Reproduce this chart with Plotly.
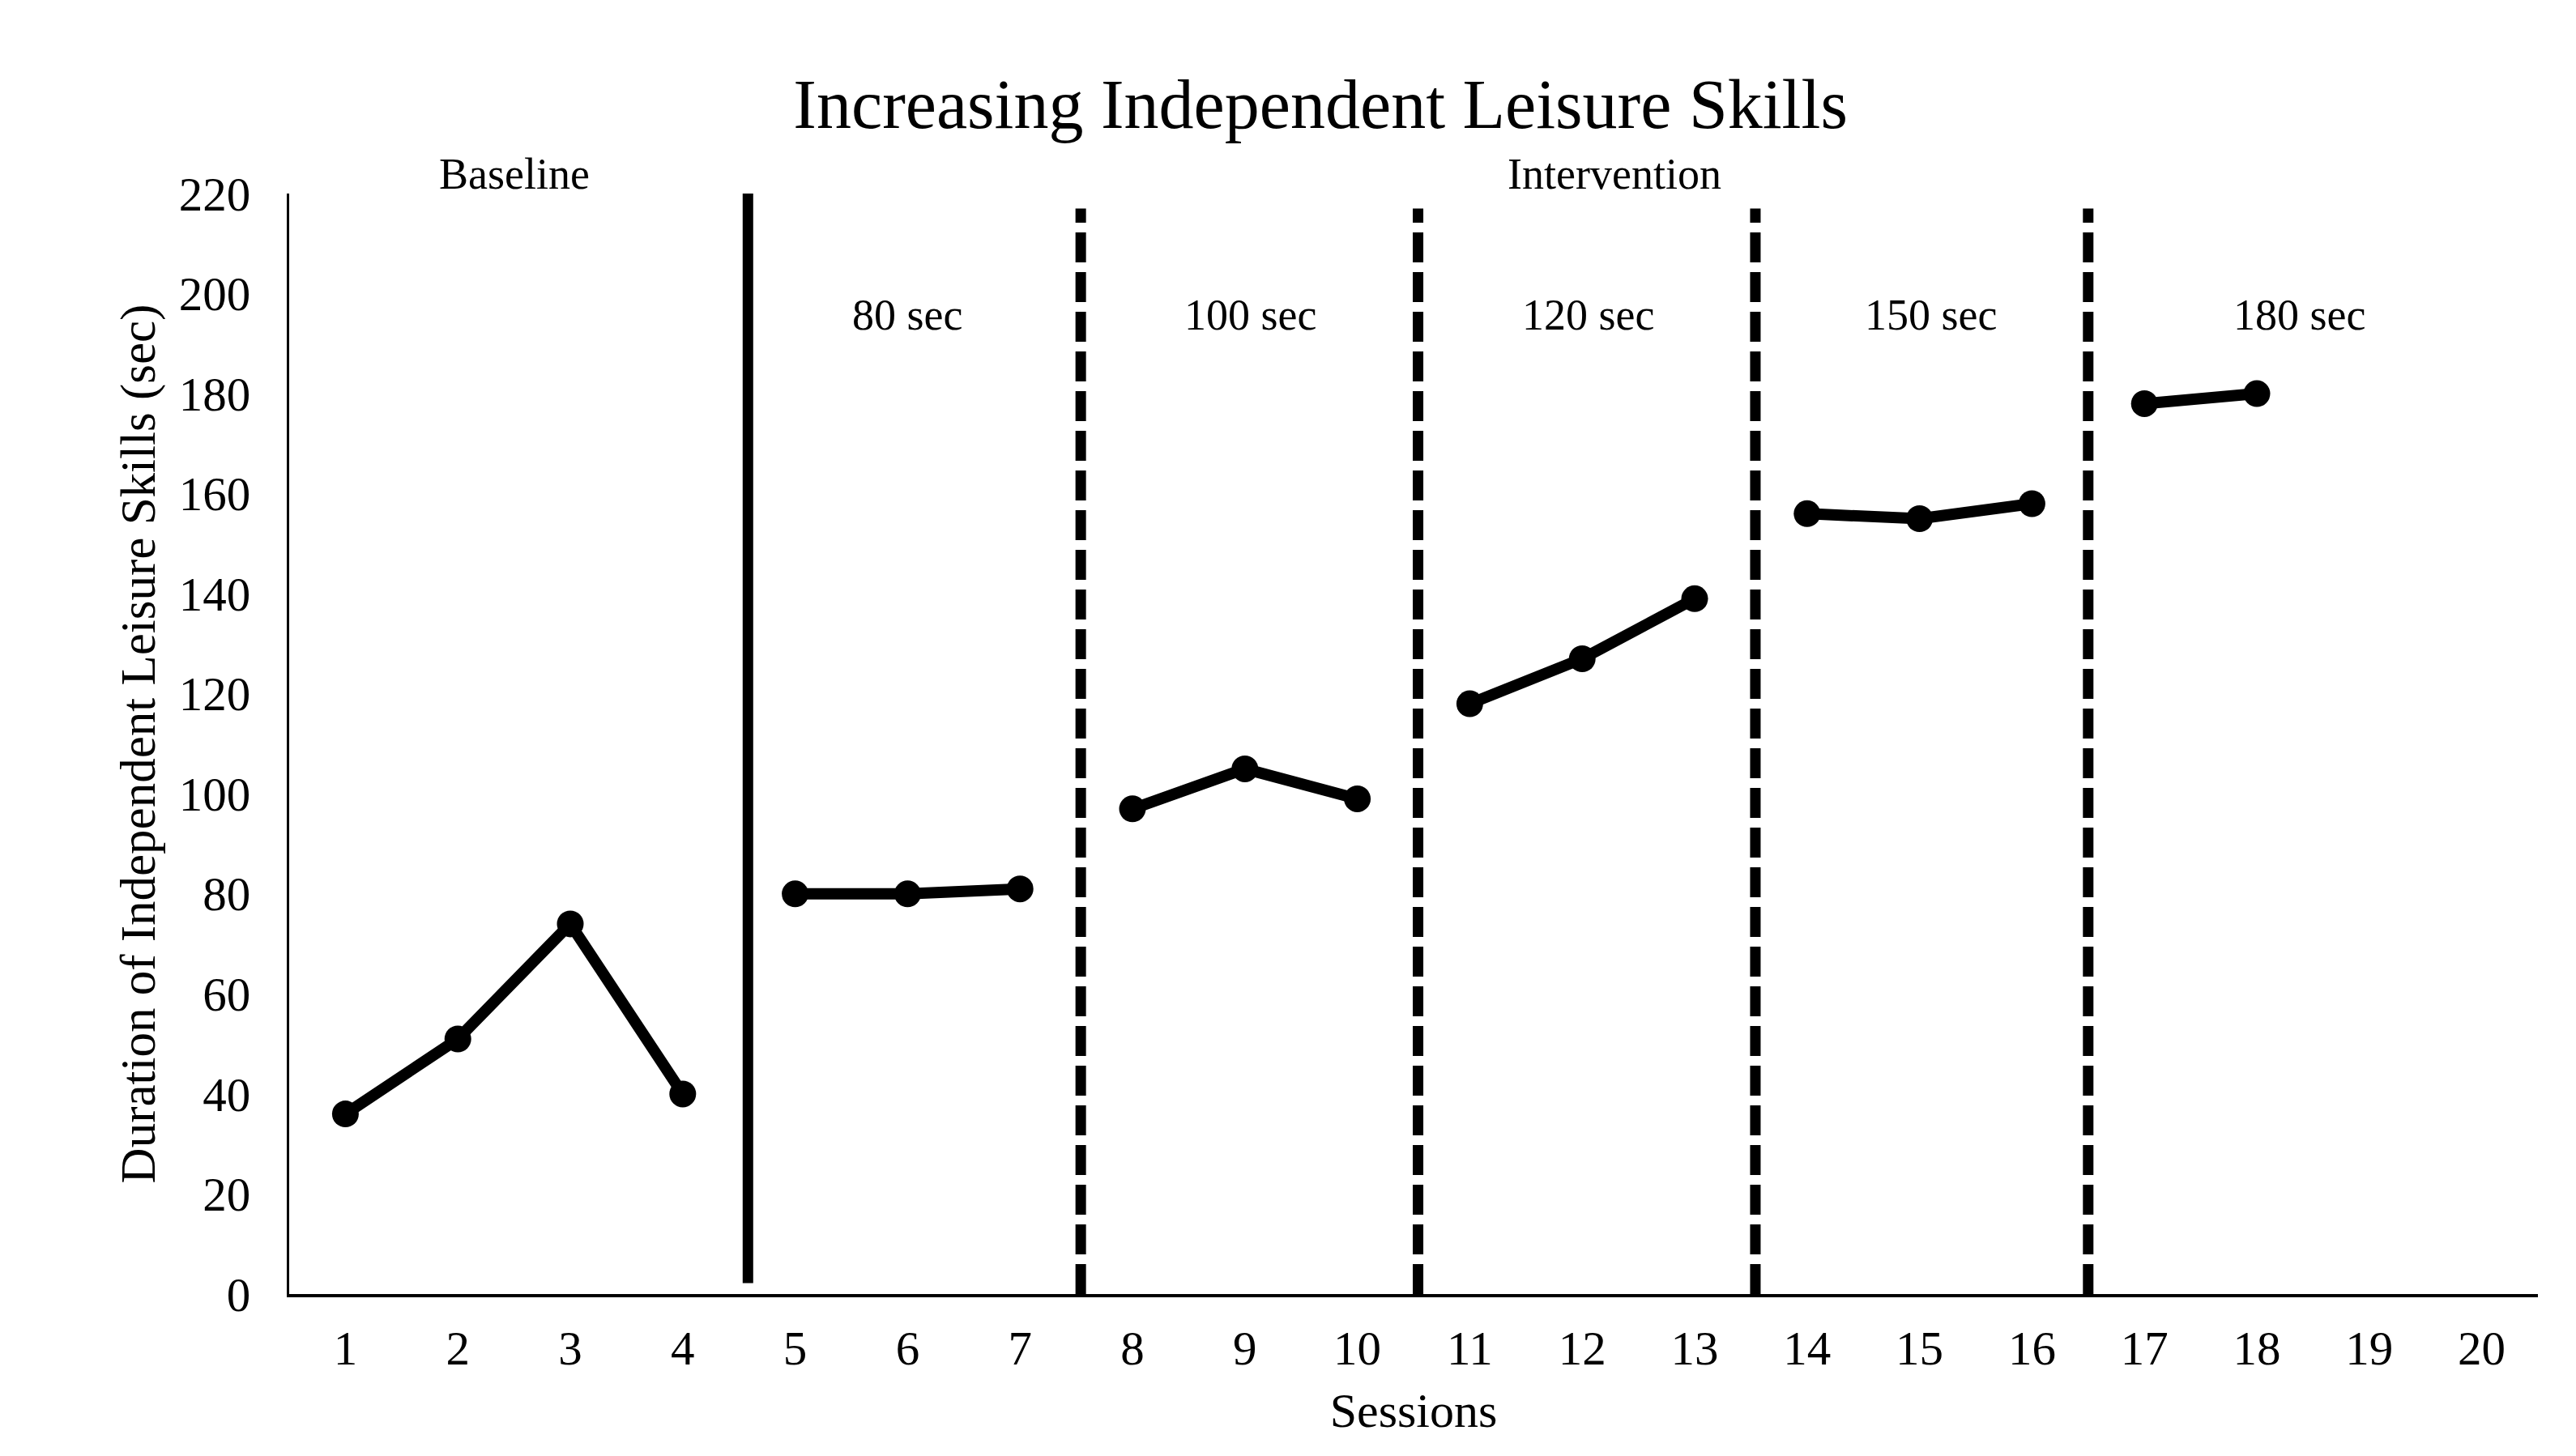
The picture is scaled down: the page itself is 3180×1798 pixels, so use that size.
import plotly.graph_objects as go

# ---- data ----
sessions = list(range(1, 19))
durations = [36, 51, 74, 40, 80, 80, 81, 97, 105, 99, 118, 127, 139, 156, 155, 158, 178, 180]
phase_of_session = [0, 0, 0, 0, 1, 1, 1, 2, 2, 2, 3, 3, 3, 4, 4, 4, 5, 5]

x_ticks = list(range(1, 21))
y_ticks = list(range(0, 221, 20))

phase_change_x = [4.58, 7.54, 10.54, 13.54, 16.5]
phase_change_style = ["solid", "dash", "dash", "dash", "dash"]

condition_labels = ["80 sec", "100 sec", "120 sec", "150 sec", "180 sec"]
condition_label_x = [6.0, 9.05, 12.05, 15.1, 18.38]

section_labels = ["Baseline", "Intervention"]
section_label_x = [2.5, 12.29]

title_text = "Increasing Independent Leisure Skills"
x_title = "Sessions"
y_title = "Duration of Independent Leisure Skills (sec)"

FONT = "Liberation Serif, Times New Roman, serif"

fig = go.Figure()

for ph in sorted(set(phase_of_session)):
    xs = [s for s, p in zip(sessions, phase_of_session) if p == ph]
    ys = [d for d, p in zip(durations, phase_of_session) if p == ph]
    fig.add_trace(go.Scatter(
        x=xs, y=ys, mode="lines+markers",
        line=dict(color="black", width=14),
        marker=dict(color="black", size=33),
        showlegend=False, hoverinfo="skip",
    ))

shapes = []
for xv, st in zip(phase_change_x, phase_change_style):
    if st == "solid":
        shapes.append(dict(type="line", xref="x", yref="y", x0=xv, x1=xv, y0=2.2, y1=223.5,
                           line=dict(color="black", width=13)))
    else:
        shapes.append(dict(type="line", xref="x", yref="y", x0=xv, x1=xv, y0=0, y1=217,
                           line=dict(color="black", width=13, dash="37px,12px")))

annotations = []
for txt, xv in zip(section_labels, section_label_x):
    annotations.append(dict(text=txt, x=xv, y=1.018, xref="x", yref="paper", showarrow=False,
                            xanchor="center", yanchor="middle",
                            font=dict(family=FONT, size=54, color="black")))
for txt, xv in zip(condition_labels, condition_label_x):
    annotations.append(dict(text=txt, x=xv, y=195.7, xref="x", yref="y", showarrow=False,
                            xanchor="center", yanchor="middle",
                            font=dict(family=FONT, size=54, color="black")))

fig.update_layout(
    width=3180, height=1798,
    paper_bgcolor="white", plot_bgcolor="white",
    margin=dict(l=349, r=55, t=231, b=208),
    title=dict(text=title_text, x=0.5101, xanchor="center", y=0.9333, yanchor="middle",
               font=dict(family=FONT, size=86, color="black")),
    font=dict(family=FONT, color="black"),
    shapes=shapes,
    annotations=annotations,
    xaxis=dict(range=[0.5, 20.5], tickmode="array", tickvals=x_ticks,
               ticktext=[str(v) for v in x_ticks],
               showline=True, linecolor="black", linewidth=4,
               showgrid=False, zeroline=False, ticks="",
               ticklabelstandoff=12,
               tickfont=dict(family=FONT, size=59, color="black"),
               title=dict(text=x_title, standoff=24,
                          font=dict(family=FONT, size=60, color="black"))),
    yaxis=dict(range=[0, 220], tickmode="array", tickvals=y_ticks,
               ticktext=[str(v) for v in y_ticks],
               showline=True, linecolor="black", linewidth=3,
               showgrid=False, zeroline=False, ticks="",
               ticklabelstandoff=33,
               tickfont=dict(family=FONT, size=59, color="black"),
               title=dict(text=y_title, standoff=10,
                          font=dict(family=FONT, size=61, color="black"))),
)

fig.write_html("out.html")
